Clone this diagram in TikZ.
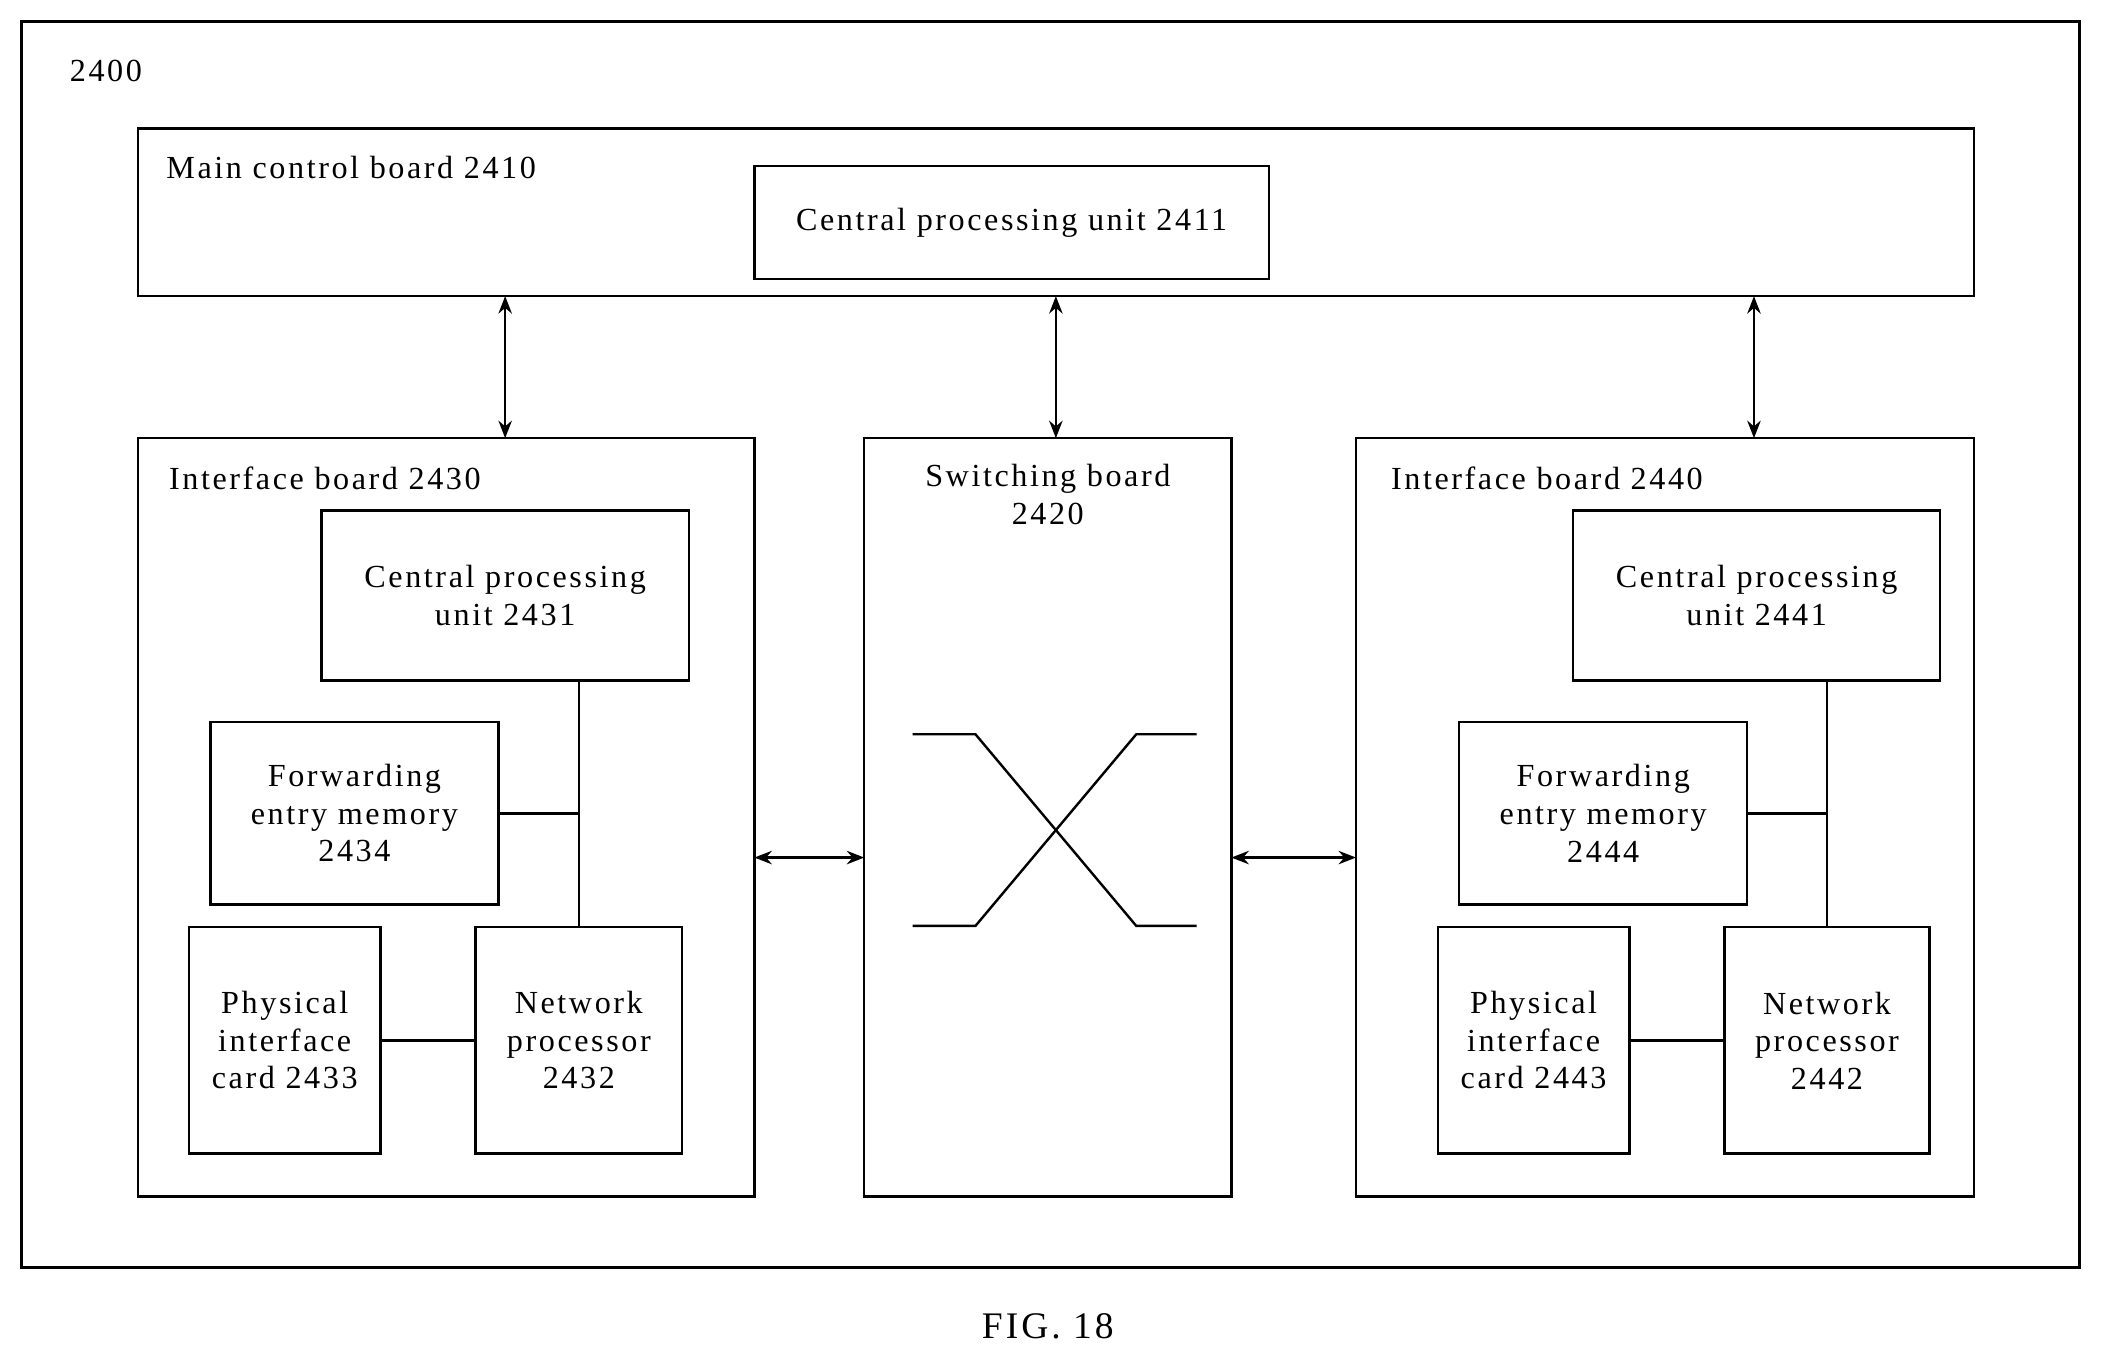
\documentclass[tikz,border=0pt]{standalone}
\usepackage{fontspec}
\setmainfont{Liberation Serif}[LetterSpace=8]
\usetikzlibrary{arrows.meta}
\begin{document}
\begin{tikzpicture}[x=1pt,y=-1pt,
 box/.style={draw,line width=1.8pt},
 bx/.style={draw,line width=1.8pt,align=center,font=\fontsize{24}{28}\selectfont,inner sep=0pt},
 lbl/.style={anchor=west,font=\fontsize{24}{28}\selectfont,inner sep=0pt},
 ln/.style={line width=1.8pt},
 arr/.style={line width=2pt,{Stealth[length=13pt,width=10pt]}-{Stealth[length=13pt,width=10pt]}}]
\useasboundingbox (0,0) rectangle (1568,1017);
\draw[box] (16,16) rectangle (1552,946);
\node[lbl] at (52,53) {2400};
% main board
\draw[box] (103,96) rectangle (1473,221);
\node[lbl] at (124,125) {Main control board 2410};
\node[bx,minimum width=384pt,minimum height=84pt] (cpu0) at (755,166) {Central processing unit 2411};
% boards
\coordinate (mb1) at (377,221); \coordinate (mb2) at (788,221); \coordinate (mb3) at (1309,221);
\node[box,minimum width=460pt,minimum height=566pt,inner sep=0pt] (ib1) at (333,610) {};
\node[box,minimum width=274pt,minimum height=566pt,inner sep=0pt] (sw) at (782,610) {};
\node[box,minimum width=461pt,minimum height=566pt,inner sep=0pt] (ib2) at (1242.5,610) {};
\node[lbl] at (126,357) {Interface board 2430};
\node[lbl] at (1038,357) {Interface board 2440};
\node[align=center,font=\fontsize{24}{28}\selectfont,inner sep=0pt] at (782,369) {Switching board\\2420};
% arrows
\draw[arr] (mb1) -- (377,327);
\draw[arr] (mb2) -- (788,327);
\draw[arr] (mb3) -- (1309,327);
\draw[arr] (563,640) -- (645,640);
\draw[arr] (919,640) -- (1012,640);
% X
\draw[ln] (681,548) -- (728,548) -- (848,691) -- (893,691);
\draw[ln] (681,691) -- (728,691) -- (848,548) -- (893,548);
% left inner
\node[bx,minimum width=274pt,minimum height=127pt] (c1) at (377,444.5) {Central processing\\unit 2431};
\node[bx,minimum width=215pt,minimum height=136pt] (f1) at (264.5,607) {Forwarding\\entry memory\\2434};
\node[bx,minimum width=143pt,minimum height=169pt] (p1) at (212.5,776.5) {Physical\\interface\\card 2433};
\node[bx,minimum width=154pt,minimum height=169pt] (n1) at (432,776.5) {Network\\processor\\2432};
\draw[ln] (c1.south -| n1.north) -- (n1.north);
\draw[ln] (f1.east) -- (f1.east -| n1.north);
\draw[ln] (p1.east) -- (n1.west);
% right inner
\node[bx,minimum width=274pt,minimum height=127pt] (c2) at (1311,444.5) {Central processing\\unit 2441};
\node[bx,minimum width=215pt,minimum height=136pt] (f2) at (1196.5,607) {Forwarding\\entry memory\\2444};
\node[bx,minimum width=143pt,minimum height=169pt] (p2) at (1144.5,776.5) {Physical\\interface\\card 2443};
\node[bx,minimum width=153pt,minimum height=169pt] (n2) at (1363.5,776.5) {Network\\processor\\2442};
\draw[ln] (c2.south -| n2.north) -- (n2.north);
\draw[ln] (f2.east) -- (f2.east -| n2.north);
\draw[ln] (p2.east) -- (n2.west);
\node[font=\fontsize{28}{32}\selectfont] at (782,990) {FIG. 18};
\end{tikzpicture}
\end{document}
